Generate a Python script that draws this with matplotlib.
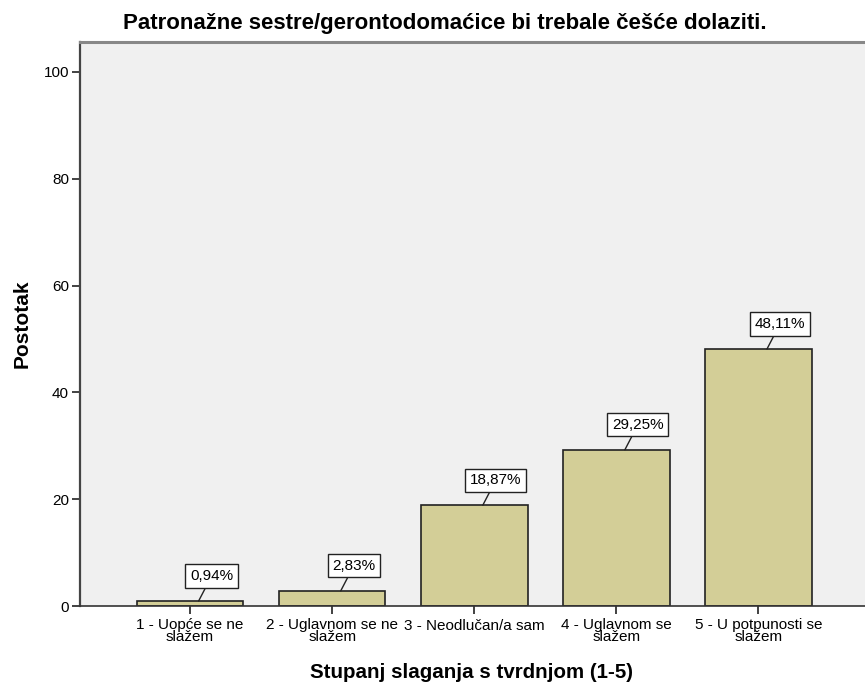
import matplotlib
matplotlib.use("Agg")
from matplotlib import pyplot as plt

plt.rcParams['font.family'] = ['Liberation Sans', 'DejaVu Sans']

categories = ['1 - Uopće se ne\nslažem', '2 - Uglavnom se ne\nslažem', '3 - Neodlučan/a sam',
              '4 - Uglavnom se\nslažem', '5 - U potpunosti se\nslažem']
values = [0.94, 2.83, 18.87, 29.25, 48.11]
labels = ['0,94%', '2,83%', '18,87%', '29,25%', '48,11%']
yticks = [0, 20, 40, 60, 80, 100]

fig = plt.figure(figsize=(8.65, 6.86), dpi=100)
ax = fig.add_axes([80/865, 80/686, 785/865, 564/686])
ax.set_facecolor('#f0f0f0')

pos = list(range(1, len(values)+1))
ax.bar(pos, values, width=0.75, color='#d3ce97', edgecolor='#222222', linewidth=1.2, zorder=2)

for x, v, t in zip(pos, values, labels):
    ax.annotate(t, xy=(x + 0.06, v), xytext=(13, 25), textcoords='offset pixels',
                ha='center', va='center', fontsize=11,
                bbox=dict(boxstyle='square,pad=0.3', fc='white', ec='#222222', lw=1.0),
                arrowprops=dict(arrowstyle='-', color='#222222', lw=1.0, shrinkA=0, shrinkB=0))

ax.set_xlim(0.225, 5.75)
ax.set_ylim(0, 105.6)
ax.set_yticks(yticks)
ax.set_xticks(pos)
ax.set_xticklabels(categories, fontsize=11, linespacing=0.8)
ax.tick_params(axis='y', labelsize=11, length=6, width=1.3, color='#333333', pad=2)
ax.tick_params(axis='x', length=6, width=1.3, color='#333333', pad=3)

ax.spines['left'].set_color('#444444')
ax.spines['left'].set_linewidth(1.6)
ax.spines['bottom'].set_color('#333333')
ax.spines['bottom'].set_linewidth(1.2)
ax.spines['top'].set_color('#888888')
ax.spines['top'].set_linewidth(2.2)
ax.spines['right'].set_visible(False)

fig.text(22/865, 1 - 324/686, 'Postotak', rotation=90, ha='center', va='center',
         fontsize=15, fontweight='bold')
fig.text(472/865, 1 - 673/686, 'Stupanj slaganja s tvrdnjom (1-5)', ha='center', va='center',
         fontsize=14.8, fontweight='bold')
fig.text(445/865, 1 - 29/686, 'Patronažne sestre/gerontodomaćice bi trebale češće dolaziti.',
         ha='center', va='baseline', fontsize=16, fontweight='bold')

fig.savefig('out.png', dpi=100)
